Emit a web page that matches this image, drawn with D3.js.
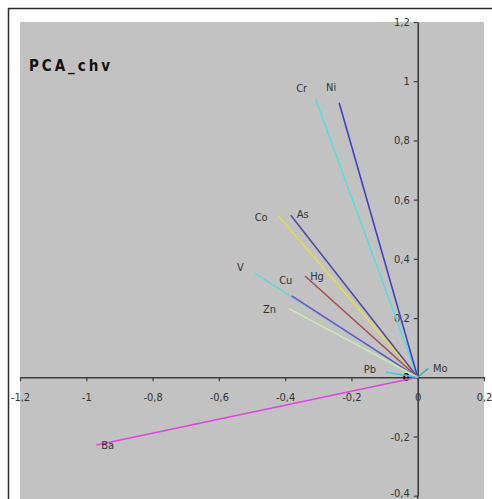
<!DOCTYPE html>
<html>
<head>
<meta charset="utf-8">
<script src="https://cdn.jsdelivr.net/npm/d3@7"></script>
<style>
  html, body { margin: 0; padding: 0; background: #ffffff; }
  svg { display: block; }
  .lbl { font-family: "Liberation Sans Narrow", "DejaVu Sans Condensed", "Liberation Sans", sans-serif; font-size: 11px; fill: #333333; }
</style>
</head>
<body>
<svg id="chart" width="492" height="499"></svg>
<script>
// Loadings of each element on the first two principal components
const elements = ["Ba", "Cr", "Ni", "Co", "As", "V", "Cu", "Hg", "Zn", "Pb", "Mo"];
const pc1 = [-0.969, -0.308, -0.237, -0.421, -0.383, -0.493, -0.380, -0.340, -0.390, -0.096, 0.032];
const pc2 = [-0.229, 0.939, 0.927, 0.546, 0.547, 0.353, 0.275, 0.342, 0.233, 0.017, 0.030];

// Axis ticks
const xTicks = [-1.2, -1, -0.8, -0.6, -0.4, -0.2, 0, 0.2];
const yTicks = [-0.4, -0.2, 0, 0.2, 0.4, 0.6, 0.8, 1, 1.2];

// Vector colours and label offsets (pixels from the arrow tip)
const colors = {
  Ba: "#e244e0", Cr: "#55dcdc", Ni: "#3c3cc8", Co: "#e8e040", As: "#4a4aa8",
  V: "#62d6d8", Cu: "#7450c4", Hg: "#a84a4a", Zn: "#c6eeb0", Pb: "#46c4e6", Mo: "#42a8a8"
};
const labelOffset = {
  Ba: [11, 0], Cr: [-14, -11], Ni: [-8, -16], Co: [-17, 1], As: [12, -1],
  V: [-14, -6], Cu: [-6, -16], Hg: [12, 0], Zn: [-19, 1], Pb: [-16, -3], Mo: [12, 0]
};

const svg = d3.select("#chart");
const plot = { left: 20, right: 484, top: 22, bottom: 499 };

const x = d3.scaleLinear().domain([-1.2, 0.2]).range([20, 484]);
const y = d3.scaleLinear().domain([-0.4, 1.2]).range([495.7, 22]);
const fmt = v => d3.format("~g")(v).replace(".", ",").replace("−", "-");

// outer frame
svg.append("rect")
  .attr("x", 8.5).attr("y", 8.5).attr("width", 492).attr("height", 500)
  .attr("fill", "#ffffff").attr("stroke", "#2a2a2a").attr("stroke-width", 1.5);

// plot background
svg.append("rect")
  .attr("x", plot.left).attr("y", plot.top)
  .attr("width", plot.right - plot.left).attr("height", plot.bottom - plot.top)
  .attr("fill", "#c2c2c2");

// title
svg.append("text")
  .attr("x", 29).attr("y", 71)
  .attr("textLength", 81).attr("lengthAdjust", "spacing")
  .style("font-family", "'DejaVu Sans Condensed', 'Liberation Sans', sans-serif")
  .style("font-size", "15px").style("font-weight", "bold").style("fill", "#111")
  .text("PCA_chv");

// axes through the origin
const xAxis = d3.axisBottom(x).tickValues(xTicks).tickFormat(fmt).tickSizeInner(4).tickSizeOuter(0).tickPadding(12);
const yAxis = d3.axisLeft(y).tickValues(yTicks).tickFormat(fmt).tickSizeInner(4).tickSizeOuter(0).tickPadding(4);

const gx = svg.append("g").attr("transform", `translate(0,${y(0)})`).call(xAxis);
const gy = svg.append("g").attr("transform", `translate(${x(0)},0)`).call(yAxis);

[gx, gy].forEach(g => {
  g.select(".domain").attr("stroke", "#3c3c3c").attr("stroke-width", 1.6);
  g.selectAll(".tick line").attr("stroke", "#3c3c3c").attr("stroke-width", 1.2);
  g.selectAll(".tick text").attr("class", "lbl").attr("fill", "#333");
});
gy.selectAll(".tick text").filter(d => d === 0).style("fill", "#111").style("font-weight", "bold");
// lowest label sits against the bottom edge
gy.selectAll(".tick text").filter(d => d === -0.4).attr("dy", "0.1em");
// vertical axis runs on past the bottom tick
svg.append("line")
  .attr("x1", x(0)).attr("x2", x(0)).attr("y1", y(-0.4)).attr("y2", 499)
  .attr("stroke", "#3c3c3c").attr("stroke-width", 1.6);

// loading vectors
const vec = elements.map((e, i) => ({ name: e, px: pc1[i], py: pc2[i] }));
svg.append("g").selectAll("line").data(vec).join("line")
  .attr("x1", x(0)).attr("y1", y(0))
  .attr("x2", d => x(d.px)).attr("y2", d => y(d.py))
  .attr("stroke", d => colors[d.name]).attr("stroke-width", 1.5);

svg.append("g").selectAll("text").data(vec).join("text")
  .attr("class", "lbl")
  .attr("x", d => x(d.px) + labelOffset[d.name][0])
  .attr("y", d => y(d.py) + labelOffset[d.name][1])
  .attr("text-anchor", "middle").attr("dy", "0.36em")
  .text(d => d.name);
</script>
</body>
</html>
